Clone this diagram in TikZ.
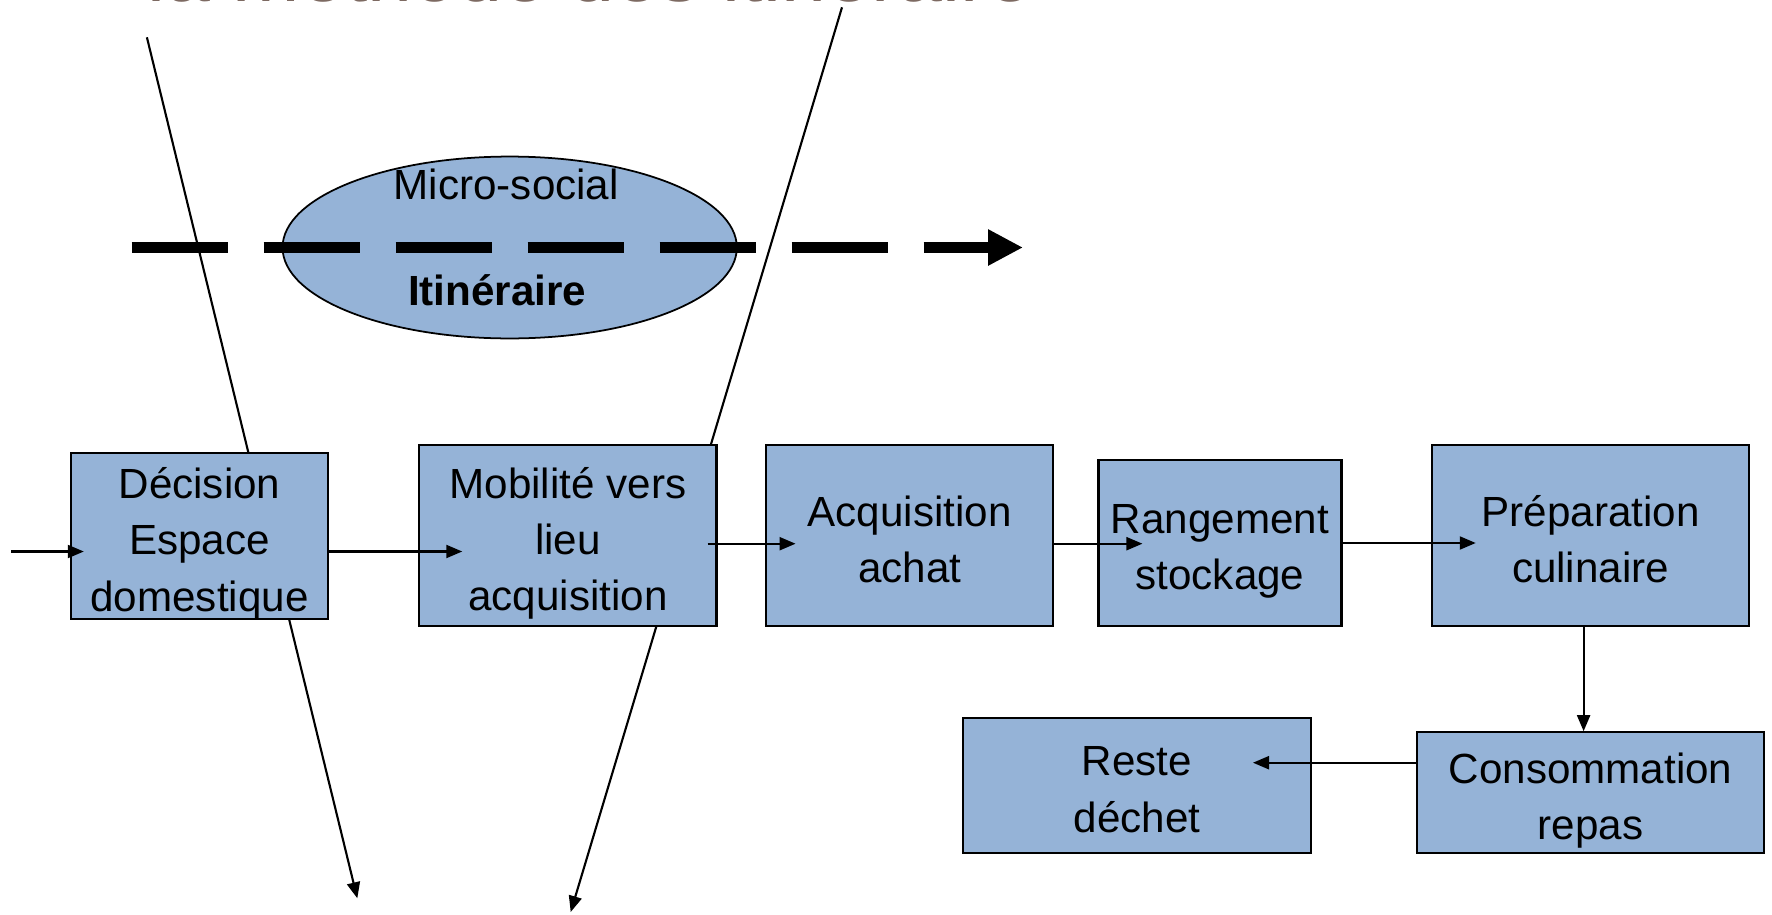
\documentclass[tikz,border=0pt]{standalone}
\usepackage{fontspec}
\setmainfont{Liberation Sans}
\usetikzlibrary{arrows.meta,shapes.geometric}

\begin{document}
\begin{tikzpicture}[
  box/.style={draw=black, line width=0.6pt, fill=boxblue, align=center, inner sep=0pt, font=\fontsize{12}{16}\selectfont, text depth=3.4pt},
  twoline/.style={box, text height=30pt},
  threeline/.style={box, text height=44.8pt, text depth=2.2pt},
  conn/.style={-{Triangle[length=1.6mm,width=1.3mm]}, line width=0.6pt},
  ]
\definecolor{boxblue}{HTML}{95B3D7}
\definecolor{titlecol}{HTML}{7D6A62}
\useasboundingbox (0,0) rectangle (17.72,9.14);
% title, mostly cut off by the page
\node[anchor=base west, inner sep=0pt, text=titlecol, font=\fontsize{23}{28}\selectfont] (title) at (1.47,9.125) {la méthode des itinéraire};
% the two slanted lines
\coordinate (leftTop) at (1.469,8.767);
\coordinate (leftEnd) at (3.573,0.157);
\coordinate (rightTop) at (8.42,9.067);
\coordinate (rightEnd) at (5.707,0.02);
\draw[conn] (leftTop) -- (leftEnd);
\draw[conn] (rightTop) -- (rightEnd);
% micro-social ellipse and itinerary arrow
\node[draw, line width=0.5pt, fill=boxblue, ellipse, minimum width=4.543cm, minimum height=1.819cm, inner sep=0pt] (micro) at (5.097,6.665) {};
\node[font=\fontsize{12}{16}\selectfont] (microTxt) at (5.063,7.298) {Micro-social};
\node[font=\fontsize{12}{16}\selectfont\bfseries] (itinTxt) at (4.972,6.236) {Itinéraire};
\coordinate (itinStart) at (1.315,6.665);
\coordinate (itinEnd) at (10.23,6.665);
\draw[line width=3.3pt, dash pattern=on 9.6mm off 3.6mm, -{Triangle[length=3.5mm,width=3.4mm]}] (itinStart) -- (itinEnd);
% steps
\node[threeline, minimum width=2.565cm, minimum height=1.661cm] (dec) at (1.995,3.778) {Décision\\Espace\\domestique};
\node[threeline, minimum width=2.972cm, minimum height=1.808cm] (mob) at (5.679,3.783) {Mobilité vers\\lieu\\acquisition};
\node[twoline, minimum width=2.871cm, minimum height=1.808cm] (acq) at (9.097,3.783) {Acquisition\\achat};
\node[twoline, minimum width=2.430cm, minimum height=1.661cm] (ran) at (12.200,3.710) {Rangement\\stockage};
\node[twoline, minimum width=3.176cm, minimum height=1.808cm] (prep) at (15.906,3.783) {Préparation\\culinaire};
\node[twoline, minimum width=3.470cm, minimum height=1.209cm] (cons) at (15.906,1.213) {Consommation\\repas};
\node[twoline, minimum width=3.481cm, minimum height=1.356cm] (reste) at (11.369,1.286) {Reste\\déchet};
% arrows between steps
\coordinate (start) at (0.113,3.625);
\draw[conn] (start) -- ([xshift=1.36mm]start -| dec.west);
\draw[conn] (dec.east |- start) -- ([xshift=4.4mm]start -| mob.west);
\draw[conn] ([xshift=-1mm,yshift=-0.8mm]mob.east) coordinate (a3) -- ([xshift=3.05mm]a3 -| acq.west);
\draw[conn] ([yshift=-0.8mm]acq.east) coordinate (a4) -- ([xshift=4.5mm]a4 -| ran.west);
\draw[conn] (ran.east) coordinate (a5) -- ([xshift=4.5mm]a5 -| prep.west);
\draw[conn] ([xshift=-0.7mm]prep.south) -- ([xshift=-0.7mm]prep.south |- cons.north);
\draw[conn] ([yshift=3mm]cons.west) coordinate (a7) -- ([xshift=-5.9mm]a7 -| reste.east);
\end{tikzpicture}
\end{document}
